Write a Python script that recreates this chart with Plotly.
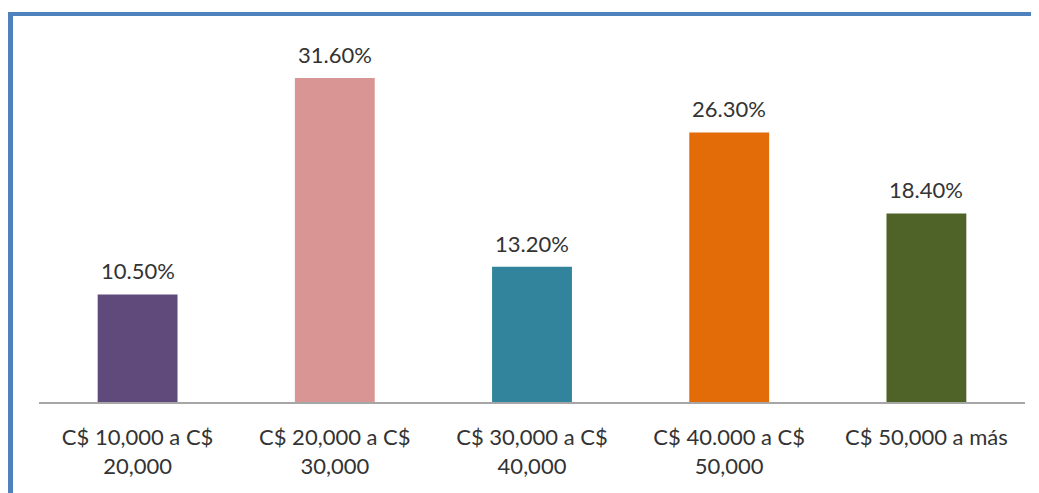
import plotly.graph_objects as go

categories = ["C$ 10,000 a C$<br>20,000", "C$ 20,000 a C$<br>30,000", "C$ 30,000 a C$<br>40,000",
              "C$ 40.000 a C$<br>50,000", "C$ 50,000 a más"]
values = [10.5, 31.6, 13.2, 26.3, 18.4]
labels = ["10.50%", "31.60%", "13.20%", "26.30%", "18.40%"]
colors = ["#604A7B", "#D99594", "#31849B", "#E36C09", "#4F6228"]

OFF = 8  # page body margin
W, H = 1039 - OFF, 493 - OFF
# plot area in reference pixels: x 39..1025, y 20..402
L, R, T, B = 39 - OFF, 1039 - 1025, 20 - OFF, 493 - 402
pw, ph = W - L - R, H - T - B
FONT = "Lato"
TXT = "#333333"
FS = 22

fig = go.Figure(go.Bar(
    x=categories, y=values, marker=dict(color=colors, line=dict(width=0)),
    width=0.405, hoverinfo="skip",
))

for c, v, t in zip(categories, values, labels):
    fig.add_annotation(x=c, y=v, text=t, showarrow=False, yanchor="bottom",
                       yshift=8, font=dict(family=FONT, size=FS, color=TXT))

def px_x(p):
    return (p - OFF - L) / pw

def px_y(p):
    return (H + OFF - B - p) / ph

fig.update_layout(
    width=W, height=H, margin=dict(l=L, r=R, t=T, b=B),
    paper_bgcolor="white", plot_bgcolor="white", showlegend=False,
    font=dict(family=FONT, size=FS, color=TXT),
    xaxis=dict(showline=True, linecolor="#A6A6A6", linewidth=1.5, ticks="", showgrid=False,
               ticklabelstandoff=15, tickfont=dict(family=FONT, size=FS, color=TXT)),
    yaxis=dict(range=[0, ph / 10.25], visible=False, showgrid=False),
    shapes=[
        dict(type="line", xref="paper", yref="paper", x0=px_x(10.5), x1=px_x(10.5),
             y0=px_y(12), y1=px_y(520), line=dict(color="#4F81BD", width=5)),
        dict(type="line", xref="paper", yref="paper", x0=px_x(8), x1=px_x(1060),
             y0=px_y(14), y1=px_y(14), line=dict(color="#4F81BD", width=4)),
    ],
)
fig.write_html("out.html")
